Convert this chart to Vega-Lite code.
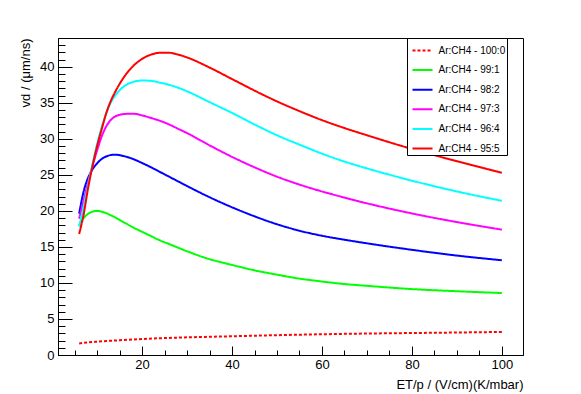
{
  "$schema": "https://vega.github.io/schema/vega-lite/v6.json",
  "width": 465,
  "height": 317,
  "autosize": "none",
  "padding": {"left": 58, "top": 38, "right": 58, "bottom": 39},
  "background": "white",
  "config": {
    "view": {"stroke": "black"},
    "axis": {
      "grid": false,
      "labelColor": "black",
      "titleColor": "black",
      "labelFont": "Liberation Sans",
      "titleFont": "Liberation Sans",
      "labelFontSize": 13,
      "titleFontSize": 13,
      "titleFontWeight": "normal"
    },
    "legend": {
      "orient": "none",
      "legendX": 349,
      "legendY": 0,
      "padding": 1.5,
      "symbolOffset": 3,
      "rowPadding": 3.6,
      "strokeColor": "black",
      "fillColor": "white",
      "labelFont": "Liberation Sans",
      "labelFontSize": 10,
      "labelColor": "black",
      "labelOffset": 5,
      "symbolType": "stroke",
      "symbolSize": 400,
      "symbolStrokeWidth": 2
    }
  },
  "data": {
    "values": [
      {"mix": "Ar:CH4 - 100:0", "x": 6, "v": 1.6},
      {"mix": "Ar:CH4 - 100:0", "x": 8, "v": 1.75},
      {"mix": "Ar:CH4 - 100:0", "x": 10, "v": 1.85},
      {"mix": "Ar:CH4 - 100:0", "x": 15, "v": 2.05},
      {"mix": "Ar:CH4 - 100:0", "x": 20, "v": 2.22},
      {"mix": "Ar:CH4 - 100:0", "x": 25, "v": 2.35},
      {"mix": "Ar:CH4 - 100:0", "x": 30, "v": 2.45},
      {"mix": "Ar:CH4 - 100:0", "x": 40, "v": 2.6},
      {"mix": "Ar:CH4 - 100:0", "x": 50, "v": 2.75},
      {"mix": "Ar:CH4 - 100:0", "x": 60, "v": 2.88},
      {"mix": "Ar:CH4 - 100:0", "x": 70, "v": 2.98},
      {"mix": "Ar:CH4 - 100:0", "x": 80, "v": 3.05},
      {"mix": "Ar:CH4 - 100:0", "x": 90, "v": 3.12},
      {"mix": "Ar:CH4 - 100:0", "x": 100, "v": 3.2},

      {"mix": "Ar:CH4 - 99:1", "x": 6, "v": 18.0},
      {"mix": "Ar:CH4 - 99:1", "x": 7, "v": 19.0},
      {"mix": "Ar:CH4 - 99:1", "x": 8, "v": 19.6},
      {"mix": "Ar:CH4 - 99:1", "x": 9, "v": 19.9},
      {"mix": "Ar:CH4 - 99:1", "x": 10, "v": 20.0},
      {"mix": "Ar:CH4 - 99:1", "x": 11, "v": 19.9},
      {"mix": "Ar:CH4 - 99:1", "x": 12, "v": 19.7},
      {"mix": "Ar:CH4 - 99:1", "x": 13, "v": 19.4},
      {"mix": "Ar:CH4 - 99:1", "x": 14, "v": 19.1},
      {"mix": "Ar:CH4 - 99:1", "x": 16, "v": 18.4},
      {"mix": "Ar:CH4 - 99:1", "x": 18, "v": 17.7},
      {"mix": "Ar:CH4 - 99:1", "x": 20, "v": 17.1},
      {"mix": "Ar:CH4 - 99:1", "x": 22, "v": 16.5},
      {"mix": "Ar:CH4 - 99:1", "x": 24, "v": 15.9},
      {"mix": "Ar:CH4 - 99:1", "x": 26, "v": 15.4},
      {"mix": "Ar:CH4 - 99:1", "x": 28, "v": 14.9},
      {"mix": "Ar:CH4 - 99:1", "x": 30, "v": 14.4},
      {"mix": "Ar:CH4 - 99:1", "x": 35, "v": 13.3},
      {"mix": "Ar:CH4 - 99:1", "x": 40, "v": 12.5},
      {"mix": "Ar:CH4 - 99:1", "x": 45, "v": 11.75},
      {"mix": "Ar:CH4 - 99:1", "x": 50, "v": 11.15},
      {"mix": "Ar:CH4 - 99:1", "x": 55, "v": 10.6},
      {"mix": "Ar:CH4 - 99:1", "x": 60, "v": 10.2},
      {"mix": "Ar:CH4 - 99:1", "x": 65, "v": 9.85},
      {"mix": "Ar:CH4 - 99:1", "x": 70, "v": 9.6},
      {"mix": "Ar:CH4 - 99:1", "x": 80, "v": 9.15},
      {"mix": "Ar:CH4 - 99:1", "x": 90, "v": 8.85},
      {"mix": "Ar:CH4 - 99:1", "x": 100, "v": 8.6},

      {"mix": "Ar:CH4 - 98:2", "x": 6, "v": 19.6},
      {"mix": "Ar:CH4 - 98:2", "x": 7, "v": 22.7},
      {"mix": "Ar:CH4 - 98:2", "x": 8, "v": 24.6},
      {"mix": "Ar:CH4 - 98:2", "x": 9, "v": 25.8},
      {"mix": "Ar:CH4 - 98:2", "x": 10, "v": 26.6},
      {"mix": "Ar:CH4 - 98:2", "x": 11, "v": 27.2},
      {"mix": "Ar:CH4 - 98:2", "x": 12, "v": 27.55},
      {"mix": "Ar:CH4 - 98:2", "x": 13, "v": 27.75},
      {"mix": "Ar:CH4 - 98:2", "x": 14, "v": 27.8},
      {"mix": "Ar:CH4 - 98:2", "x": 16, "v": 27.6},
      {"mix": "Ar:CH4 - 98:2", "x": 18, "v": 27.2},
      {"mix": "Ar:CH4 - 98:2", "x": 20, "v": 26.65},
      {"mix": "Ar:CH4 - 98:2", "x": 22, "v": 26.05},
      {"mix": "Ar:CH4 - 98:2", "x": 24, "v": 25.4},
      {"mix": "Ar:CH4 - 98:2", "x": 26, "v": 24.75},
      {"mix": "Ar:CH4 - 98:2", "x": 28, "v": 24.1},
      {"mix": "Ar:CH4 - 98:2", "x": 30, "v": 23.45},
      {"mix": "Ar:CH4 - 98:2", "x": 35, "v": 21.9},
      {"mix": "Ar:CH4 - 98:2", "x": 40, "v": 20.5},
      {"mix": "Ar:CH4 - 98:2", "x": 45, "v": 19.25},
      {"mix": "Ar:CH4 - 98:2", "x": 50, "v": 18.15},
      {"mix": "Ar:CH4 - 98:2", "x": 55, "v": 17.25},
      {"mix": "Ar:CH4 - 98:2", "x": 60, "v": 16.55},
      {"mix": "Ar:CH4 - 98:2", "x": 65, "v": 16.0},
      {"mix": "Ar:CH4 - 98:2", "x": 70, "v": 15.5},
      {"mix": "Ar:CH4 - 98:2", "x": 80, "v": 14.6},
      {"mix": "Ar:CH4 - 98:2", "x": 90, "v": 13.8},
      {"mix": "Ar:CH4 - 98:2", "x": 100, "v": 13.15},

      {"mix": "Ar:CH4 - 97:3", "x": 6, "v": 18.9},
      {"mix": "Ar:CH4 - 97:3", "x": 7, "v": 21.5},
      {"mix": "Ar:CH4 - 97:3", "x": 8, "v": 24.0},
      {"mix": "Ar:CH4 - 97:3", "x": 9, "v": 26.3},
      {"mix": "Ar:CH4 - 97:3", "x": 10, "v": 28.4},
      {"mix": "Ar:CH4 - 97:3", "x": 11, "v": 30.3},
      {"mix": "Ar:CH4 - 97:3", "x": 12, "v": 31.7},
      {"mix": "Ar:CH4 - 97:3", "x": 13, "v": 32.6},
      {"mix": "Ar:CH4 - 97:3", "x": 14, "v": 33.1},
      {"mix": "Ar:CH4 - 97:3", "x": 16, "v": 33.45},
      {"mix": "Ar:CH4 - 97:3", "x": 18, "v": 33.5},
      {"mix": "Ar:CH4 - 97:3", "x": 20, "v": 33.25},
      {"mix": "Ar:CH4 - 97:3", "x": 22, "v": 32.9},
      {"mix": "Ar:CH4 - 97:3", "x": 24, "v": 32.5},
      {"mix": "Ar:CH4 - 97:3", "x": 26, "v": 32.0},
      {"mix": "Ar:CH4 - 97:3", "x": 28, "v": 31.4},
      {"mix": "Ar:CH4 - 97:3", "x": 30, "v": 30.8},
      {"mix": "Ar:CH4 - 97:3", "x": 35, "v": 29.1},
      {"mix": "Ar:CH4 - 97:3", "x": 40, "v": 27.5},
      {"mix": "Ar:CH4 - 97:3", "x": 45, "v": 26.05},
      {"mix": "Ar:CH4 - 97:3", "x": 50, "v": 24.75},
      {"mix": "Ar:CH4 - 97:3", "x": 55, "v": 23.65},
      {"mix": "Ar:CH4 - 97:3", "x": 60, "v": 22.7},
      {"mix": "Ar:CH4 - 97:3", "x": 65, "v": 21.85},
      {"mix": "Ar:CH4 - 97:3", "x": 70, "v": 21.05},
      {"mix": "Ar:CH4 - 97:3", "x": 80, "v": 19.65},
      {"mix": "Ar:CH4 - 97:3", "x": 90, "v": 18.45},
      {"mix": "Ar:CH4 - 97:3", "x": 100, "v": 17.4},

      {"mix": "Ar:CH4 - 96:4", "x": 6, "v": 17.8},
      {"mix": "Ar:CH4 - 96:4", "x": 7, "v": 20.6},
      {"mix": "Ar:CH4 - 96:4", "x": 8, "v": 23.6},
      {"mix": "Ar:CH4 - 96:4", "x": 9, "v": 26.6},
      {"mix": "Ar:CH4 - 96:4", "x": 10, "v": 29.3},
      {"mix": "Ar:CH4 - 96:4", "x": 11, "v": 31.6},
      {"mix": "Ar:CH4 - 96:4", "x": 12, "v": 33.5},
      {"mix": "Ar:CH4 - 96:4", "x": 13, "v": 35.0},
      {"mix": "Ar:CH4 - 96:4", "x": 14, "v": 36.0},
      {"mix": "Ar:CH4 - 96:4", "x": 16, "v": 37.3},
      {"mix": "Ar:CH4 - 96:4", "x": 18, "v": 37.9},
      {"mix": "Ar:CH4 - 96:4", "x": 20, "v": 38.1},
      {"mix": "Ar:CH4 - 96:4", "x": 22, "v": 38.05},
      {"mix": "Ar:CH4 - 96:4", "x": 24, "v": 37.8},
      {"mix": "Ar:CH4 - 96:4", "x": 26, "v": 37.5},
      {"mix": "Ar:CH4 - 96:4", "x": 28, "v": 37.1},
      {"mix": "Ar:CH4 - 96:4", "x": 30, "v": 36.6},
      {"mix": "Ar:CH4 - 96:4", "x": 35, "v": 35.1},
      {"mix": "Ar:CH4 - 96:4", "x": 40, "v": 33.6},
      {"mix": "Ar:CH4 - 96:4", "x": 45, "v": 32.0},
      {"mix": "Ar:CH4 - 96:4", "x": 50, "v": 30.5},
      {"mix": "Ar:CH4 - 96:4", "x": 55, "v": 29.2},
      {"mix": "Ar:CH4 - 96:4", "x": 60, "v": 27.95},
      {"mix": "Ar:CH4 - 96:4", "x": 65, "v": 26.85},
      {"mix": "Ar:CH4 - 96:4", "x": 70, "v": 25.9},
      {"mix": "Ar:CH4 - 96:4", "x": 80, "v": 24.2},
      {"mix": "Ar:CH4 - 96:4", "x": 90, "v": 22.7},
      {"mix": "Ar:CH4 - 96:4", "x": 100, "v": 21.4},

      {"mix": "Ar:CH4 - 95:5", "x": 6, "v": 16.8},
      {"mix": "Ar:CH4 - 95:5", "x": 7, "v": 19.5},
      {"mix": "Ar:CH4 - 95:5", "x": 8, "v": 23.2},
      {"mix": "Ar:CH4 - 95:5", "x": 9, "v": 26.3},
      {"mix": "Ar:CH4 - 95:5", "x": 10, "v": 29.0},
      {"mix": "Ar:CH4 - 95:5", "x": 11, "v": 31.3},
      {"mix": "Ar:CH4 - 95:5", "x": 12, "v": 33.5},
      {"mix": "Ar:CH4 - 95:5", "x": 13, "v": 35.2},
      {"mix": "Ar:CH4 - 95:5", "x": 14, "v": 36.5},
      {"mix": "Ar:CH4 - 95:5", "x": 16, "v": 38.6},
      {"mix": "Ar:CH4 - 95:5", "x": 18, "v": 40.1},
      {"mix": "Ar:CH4 - 95:5", "x": 20, "v": 41.1},
      {"mix": "Ar:CH4 - 95:5", "x": 22, "v": 41.7},
      {"mix": "Ar:CH4 - 95:5", "x": 24, "v": 41.95},
      {"mix": "Ar:CH4 - 95:5", "x": 26, "v": 41.95},
      {"mix": "Ar:CH4 - 95:5", "x": 28, "v": 41.7},
      {"mix": "Ar:CH4 - 95:5", "x": 30, "v": 41.3},
      {"mix": "Ar:CH4 - 95:5", "x": 35, "v": 39.9},
      {"mix": "Ar:CH4 - 95:5", "x": 40, "v": 38.3},
      {"mix": "Ar:CH4 - 95:5", "x": 45, "v": 36.7},
      {"mix": "Ar:CH4 - 95:5", "x": 50, "v": 35.2},
      {"mix": "Ar:CH4 - 95:5", "x": 55, "v": 33.85},
      {"mix": "Ar:CH4 - 95:5", "x": 60, "v": 32.6},
      {"mix": "Ar:CH4 - 95:5", "x": 65, "v": 31.5},
      {"mix": "Ar:CH4 - 95:5", "x": 70, "v": 30.5},
      {"mix": "Ar:CH4 - 95:5", "x": 80, "v": 28.6},
      {"mix": "Ar:CH4 - 95:5", "x": 90, "v": 26.9},
      {"mix": "Ar:CH4 - 95:5", "x": 100, "v": 25.3}
    ]
  },
  "layer": [
    {
      "mark": {"type": "line", "interpolate": "monotone", "strokeWidth": 2},
      "encoding": {
        "x": {
          "field": "x",
          "type": "quantitative",
          "scale": {"domain": [1.3, 104.7], "nice": false, "zero": false},
          "axis": {
            "orient": "bottom",
            "title": null,
            "labels": false,
            "domain": false,
            "ticks": true,
            "tickCount": 20,
            "tickSize": -5,
            "tickWidth": 1,
            "tickColor": "#000000"
          }
        },
        "y": {
          "field": "v",
          "type": "quantitative",
          "scale": {"domain": [0, 44], "nice": false, "zero": false},
          "axis": {
            "orient": "left",
            "title": null,
            "labels": false,
            "domain": false,
            "ticks": true,
            "tickCount": 44,
            "tickSize": -7,
            "tickWidth": 1,
            "tickColor": "#000000"
          }
        },
        "color": {
          "field": "mix",
          "type": "nominal",
          "scale": {
            "domain": ["Ar:CH4 - 100:0", "Ar:CH4 - 99:1", "Ar:CH4 - 98:2", "Ar:CH4 - 97:3", "Ar:CH4 - 96:4", "Ar:CH4 - 95:5"],
            "range": ["#ff0000", "#00ff00", "#0000ff", "#ff00ff", "#00ffff", "#ff0000"]
          },
          "legend": {"title": null, "labelExpr": "datum.label + '\u00a0\u00a0\u00a0\u00a0\u00a0\u00a0\u00a0\u00a0\u00a0'"}
        },
        "strokeDash": {
          "field": "mix",
          "type": "nominal",
          "scale": {
            "domain": ["Ar:CH4 - 100:0", "Ar:CH4 - 99:1", "Ar:CH4 - 98:2", "Ar:CH4 - 97:3", "Ar:CH4 - 96:4", "Ar:CH4 - 95:5"],
            "range": [[3, 2], [1, 0], [1, 0], [1, 0], [1, 0], [1, 0]]
          },
          "legend": {"title": null, "labelExpr": "datum.label + '\u00a0\u00a0\u00a0\u00a0\u00a0\u00a0\u00a0\u00a0\u00a0'"}
        }
      }
    },
    {
      "mark": {"type": "point", "opacity": 0},
      "encoding": {
        "x": {
          "field": "x",
          "type": "quantitative",
          "axis": {
            "orient": "bottom",
            "title": "ET/p / (V/cm)(K/mbar)",
            "titleX": 465,
            "titleY": 29,
            "titleAlign": "right",
            "titleBaseline": "middle",
            "domainColor": "black",
            "ticks": true,
            "tickCount": 5,
            "tickSize": -9,
            "tickWidth": 1,
            "tickColor": "#000000",
            "labelPadding": 12,
            "labelFlush": false
          }
        },
        "y": {
          "field": "v",
          "type": "quantitative",
          "axis": {
            "orient": "left",
            "title": "vd / (μm/ns)",
            "titleAngle": 270,
            "titleX": -33,
            "titleY": 0,
            "titleAlign": "right",
            "titleBaseline": "middle",
            "domainColor": "black",
            "ticks": true,
            "tickCount": 9,
            "tickSize": -14,
            "tickWidth": 1,
            "tickColor": "#000000",
            "labelPadding": 18,
            "labelFlush": false
          }
        }
      }
    }
  ],
  "resolve": {"axis": {"x": "independent", "y": "independent"}}
}
